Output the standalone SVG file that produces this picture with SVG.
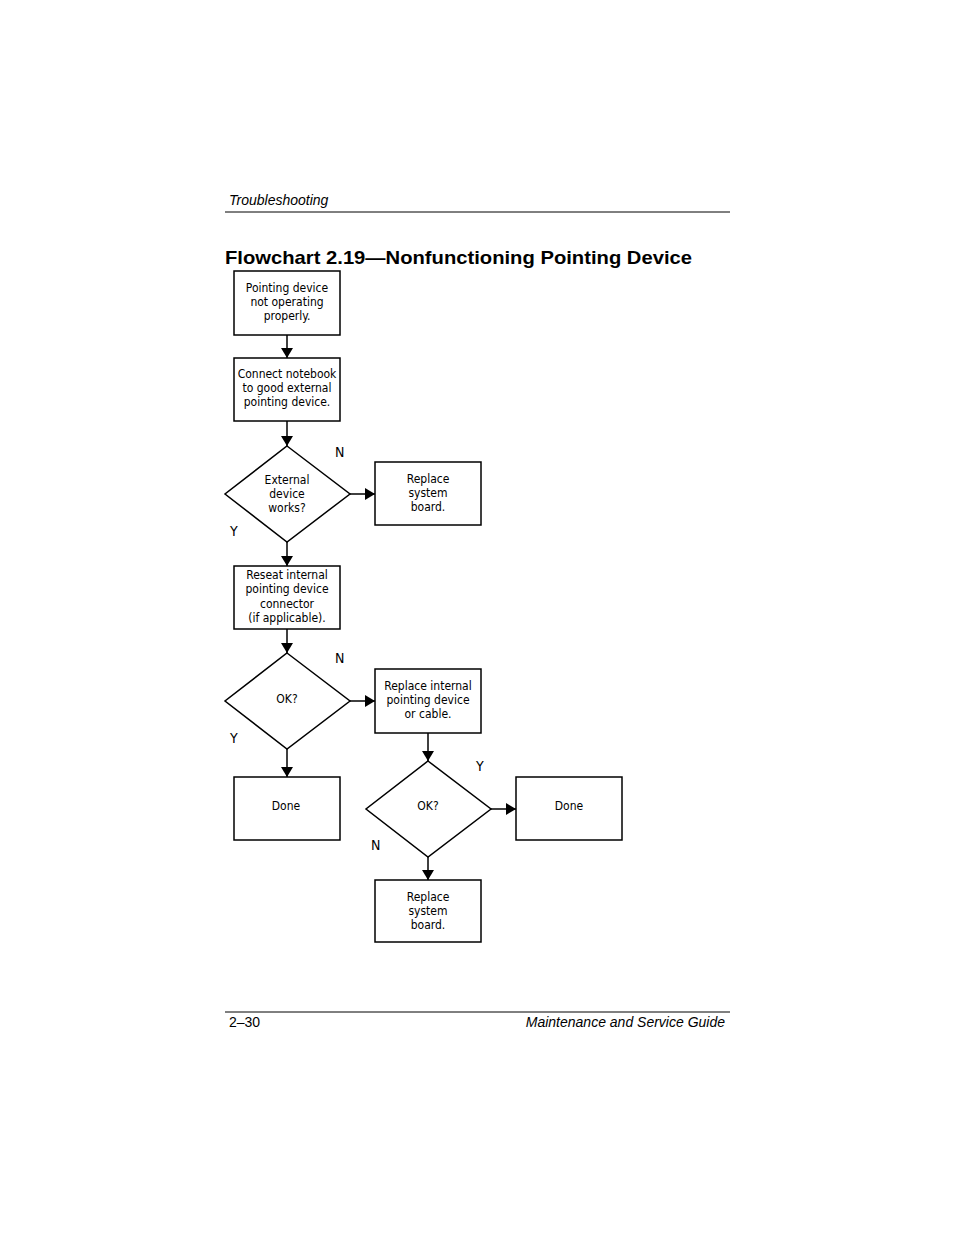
<svg xmlns="http://www.w3.org/2000/svg" width="954" height="1235" viewBox="0 0 954 1235">
<defs>
<marker id="ah" markerWidth="10" markerHeight="12" refX="10" refY="6" orient="auto" markerUnits="userSpaceOnUse"><path d="M0,0 L10,6 L0,12 Z" fill="#000"/></marker>
<style>
.n{fill:#fff;stroke:#000;stroke-width:1.5}
.t{font-family:"DejaVu Sans Condensed","Liberation Sans",sans-serif;font-size:12px;text-anchor:middle;fill:#000}
.l{font-family:"DejaVu Sans Condensed","Liberation Sans",sans-serif;font-size:14px;fill:#000}
.c{stroke:#000;stroke-width:1.5;fill:none;marker-end:url(#ah)}
</style>
</defs>
<rect width="954" height="1235" fill="#fff"/>
<text x="229" y="205" font-family="Liberation Sans,sans-serif" font-style="italic" font-size="14">Troubleshooting</text>
<line x1="225" y1="212" x2="730" y2="212" stroke="#000"/>
<text x="225" y="264" font-family="Liberation Sans,sans-serif" font-weight="bold" font-size="19" textLength="467" lengthAdjust="spacingAndGlyphs">Flowchart 2.19—Nonfunctioning Pointing Device</text>
<g id="connectors">
<line class="c" x1="287" y1="335" x2="287" y2="358"/>
<line class="c" x1="287" y1="421" x2="287" y2="446"/>
<line class="c" x1="350" y1="494" x2="375" y2="494"/>
<line class="c" x1="287" y1="542" x2="287" y2="566"/>
<line class="c" x1="287" y1="629" x2="287" y2="653"/>
<line class="c" x1="350" y1="701" x2="375" y2="701"/>
<line class="c" x1="287" y1="749" x2="287" y2="777"/>
<line class="c" x1="428" y1="733" x2="428" y2="761"/>
<line class="c" x1="491" y1="809" x2="516" y2="809"/>
<line class="c" x1="428" y1="857" x2="428" y2="880"/>
<text class="l" x="335" y="457">N</text>
<text class="l" x="230" y="536">Y</text>
<text class="l" x="335" y="663">N</text>
<text class="l" x="230" y="743">Y</text>
<text class="l" x="476" y="771">Y</text>
<text class="l" x="371" y="850">N</text>
</g>
<g id="start"><rect class="n" x="234" y="271" width="106" height="64"/><text class="t" x="287" y="292">Pointing device</text><text class="t" x="287" y="306">not operating</text><text class="t" x="287" y="320">properly.</text></g>
<g id="connect"><rect class="n" x="234" y="358" width="106" height="63"/><text class="t" x="287" y="378">Connect notebook</text><text class="t" x="287" y="392">to good external</text><text class="t" x="287" y="406">pointing device.</text></g>
<g id="d1"><polygon class="n" points="287,446 350,494 287,542 225,494"/><text class="t" x="287" y="484">External</text><text class="t" x="287" y="498">device</text><text class="t" x="287" y="512">works?</text></g>
<g id="replace1"><rect class="n" x="375" y="462" width="106" height="63"/><text class="t" x="428" y="483">Replace</text><text class="t" x="428" y="497">system</text><text class="t" x="428" y="511">board.</text></g>
<g id="reseat"><rect class="n" x="234" y="566" width="106" height="63"/><text class="t" x="287" y="579">Reseat internal</text><text class="t" x="287" y="593">pointing device</text><text class="t" x="287" y="608">connector</text><text class="t" x="287" y="622">(if applicable).</text></g>
<g id="d2"><polygon class="n" points="287,653 350,701 287,749 225,701"/><text class="t" x="287" y="703">OK?</text></g>
<g id="replace2"><rect class="n" x="375" y="669" width="106" height="64"/><text class="t" x="428" y="690">Replace internal</text><text class="t" x="428" y="704">pointing device</text><text class="t" x="428" y="718">or cable.</text></g>
<g id="done1"><rect class="n" x="234" y="777" width="106" height="63"/><text class="t" x="286" y="810">Done</text></g>
<g id="d3"><polygon class="n" points="428,761 491,809 428,857 366,809"/><text class="t" x="428" y="810">OK?</text></g>
<g id="done2"><rect class="n" x="516" y="777" width="106" height="63"/><text class="t" x="569" y="810">Done</text></g>
<g id="replace3"><rect class="n" x="375" y="880" width="106" height="62"/><text class="t" x="428" y="901">Replace</text><text class="t" x="428" y="915">system</text><text class="t" x="428" y="929">board.</text></g>
<line x1="225" y1="1012" x2="730" y2="1012" stroke="#000"/>
<text x="229" y="1027" font-family="Liberation Sans,sans-serif" font-size="14">2–30</text>
<text x="725" y="1027" text-anchor="end" font-family="Liberation Sans,sans-serif" font-style="italic" font-size="14">Maintenance and Service Guide</text>
</svg>
